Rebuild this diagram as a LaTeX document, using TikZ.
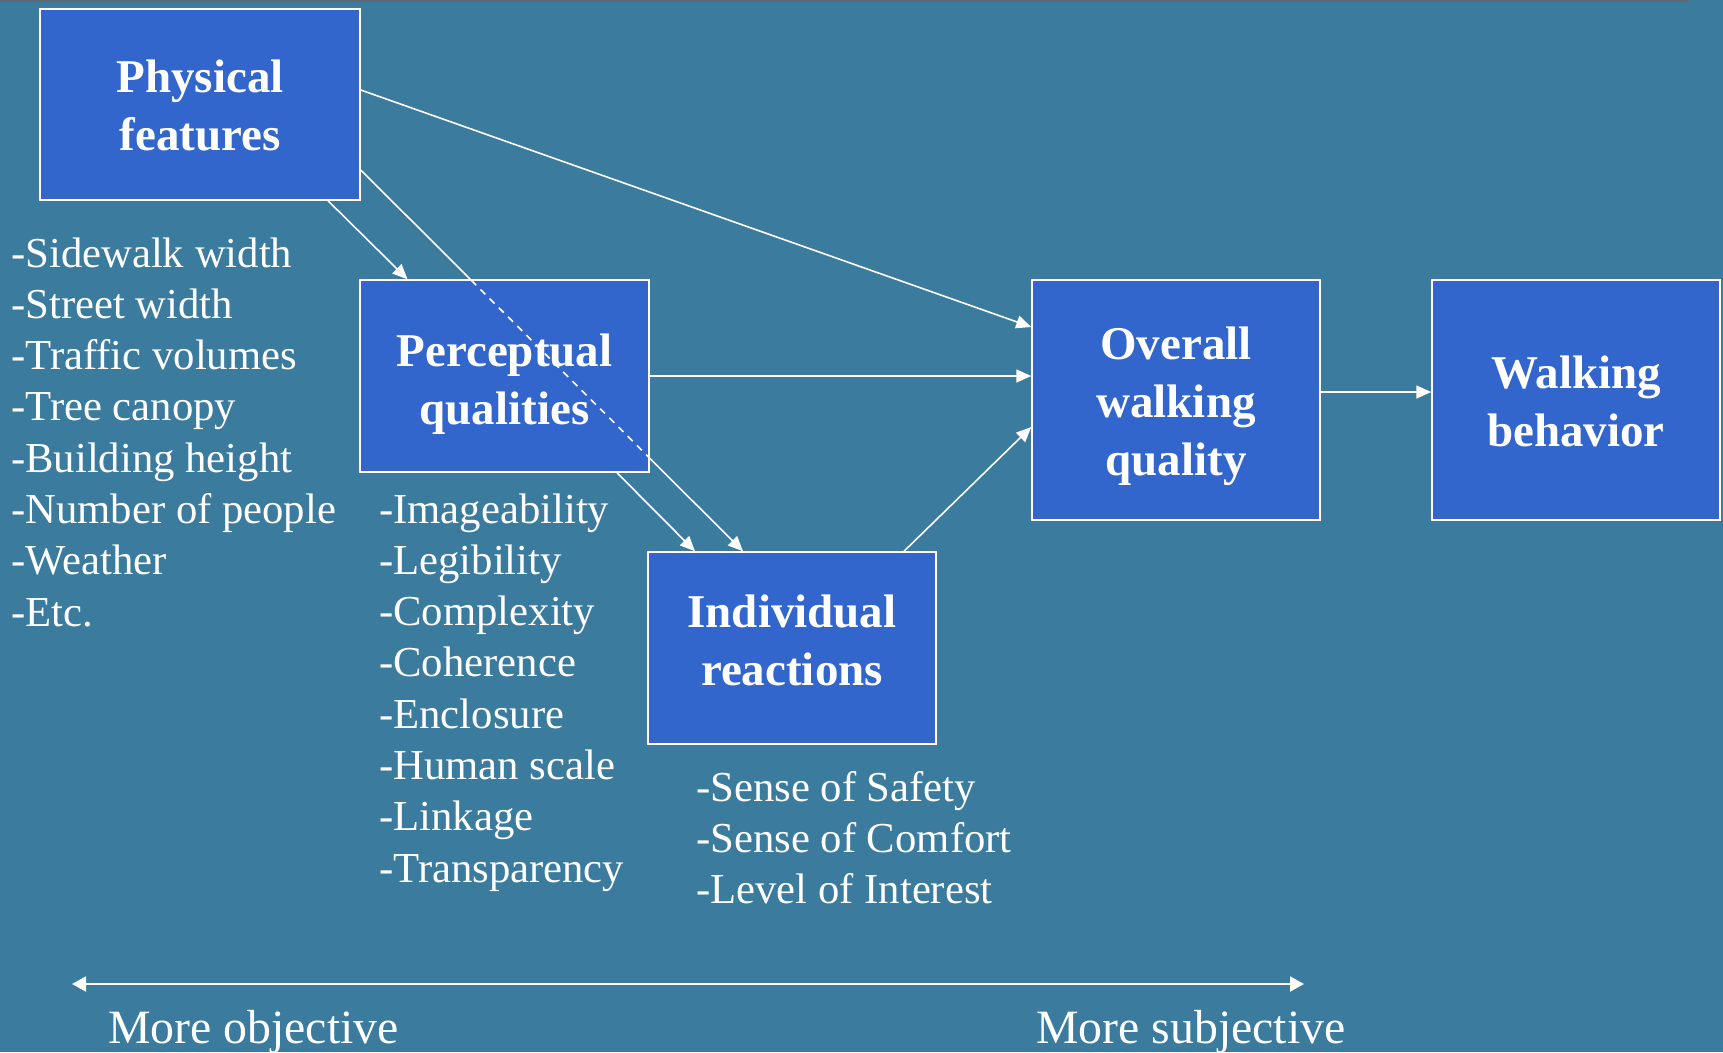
\documentclass[tikz,border=0pt]{standalone}
\usepackage{fontspec}
\setmainfont{Liberation Serif}
\usetikzlibrary{arrows.meta,backgrounds}
\definecolor{bgc}{RGB}{59,123,157}
\definecolor{boxc}{RGB}{51,102,204}
\definecolor{topline}{RGB}{95,105,115}
\begin{document}
\begin{tikzpicture}[x=1pt,y=-1pt,
 box/.style={draw=white,line width=1.5pt,fill=boxc,inner sep=0pt},
 title/.style={text=white,align=center,inner sep=0pt,font=\fontsize{47}{58}\selectfont\bfseries},
 conn/.style={draw=white,line width=1.6pt,-{Triangle[length=15pt,width=13pt]}},
 item/.style={text=white,anchor=base west,inner sep=0pt,font=\fontsize{42.7}{51}\selectfont},
 lbl/.style={text=white,anchor=base west,inner sep=0pt,font=\fontsize{47.8}{57}\selectfont}]
\useasboundingbox (0,0) rectangle (1723,1052);
% boxes
\node[box,minimum width=320pt,minimum height=191pt] (phys) at (200,104.5) {};
\node[box,minimum width=289pt,minimum height=192pt] (perc) at (504.5,376) {};
\node[box,minimum width=288pt,minimum height=192pt] (indiv) at (792,648) {};
\node[box,minimum width=288pt,minimum height=240pt] (overall) at (1176,400) {};
\node[box,minimum width=288pt,minimum height=240pt] (walk) at (1576,400) {};
% titles
\node[title] (physT) at ([yshift=-1pt]phys.center) {Physical\\features};
\node[title] (percT) at ([yshift=-8pt]perc.center) {Perceptual\\qualities};
\node[title] (indivT) at ([yshift=8pt]indiv.center) {Individual\\reactions};
\node[title] (overallT) at ([yshift=-6pt]overall.center) {Overall\\walking\\quality};
\node[title] (walkT) at ([yshift=-1pt]walk.center) {Walking\\behavior};
% lists
\foreach \t [count=\i] in {-Sidewalk width,-Street width,-Traffic volumes,-Tree canopy,-Building height,-Number of people,-Weather,-Etc.}
  \node[item] (pf\i) at (11,{267+(\i-1)*51.3}) {\t};
\foreach \t [count=\i] in {-Imageability,-Legibility,-Complexity,-Coherence,-Enclosure,-Human scale,-Linkage,-Transparency}
  \node[item] (pq\i) at (379,{523+(\i-1)*51.3}) {\t};
\foreach \t [count=\i] in {-Sense of Safety,-Sense of Comfort,-Level of Interest}
  \node[item] (ir\i) at (696,{801+(\i-1)*51.3}) {\t};
% connectors
\draw[conn] ([xshift=128pt]phys.south) -- ([xshift=-97pt]perc.north);
\draw[conn] ([yshift=14.5pt]phys.east) -- ([yshift=73pt]overall.west);
\draw[conn] (perc.east) -- (perc.east -| overall.west);
\draw[conn] ([xshift=112.5pt]perc.south) -- ([xshift=-97pt]indiv.north);
\draw[conn] ([xshift=112pt]indiv.north) -- ([yshift=-27pt]overall.west);
\draw[conn] ([yshift=8pt]overall.east) -- ([yshift=8pt]walk.west);
\begin{scope}
  \clip (perc.south west) rectangle (perc.north east);
  \draw[white,line width=1.6pt,dash pattern=on 7pt off 6pt] ([yshift=-65.5pt]phys.east) -- ([xshift=-49pt]indiv.north);
\end{scope}
% scale
\coordinate (la) at (72,984);
\coordinate (ra) at (1304,984);
\draw[white,line width=2pt,{Triangle[length=14pt,width=15pt]}-{Triangle[length=14pt,width=15pt]}] (la) -- (ra);
\node[lbl] (mo) at (108,1043) {More objective};
\node[lbl] (ms) at (1036,1043) {More subjective};
\begin{scope}[on background layer]
  \fill[bgc] (0,0) rectangle (1723,1052);
  \fill[topline] (0,0) rectangle (1689,2);
  \draw[conn] ([yshift=-65.5pt]phys.east) -- ([xshift=-49pt]indiv.north);
\end{scope}
\end{tikzpicture}
\end{document}
